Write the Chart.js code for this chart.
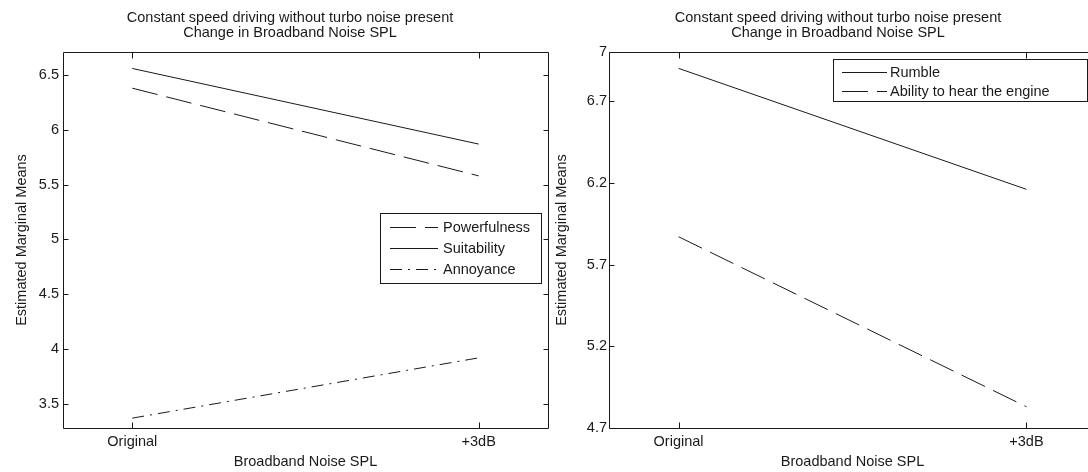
<!DOCTYPE html>
<html>
<head>
<meta charset="utf-8">
<style>
  html, body { margin: 0; padding: 0; background: #fff; overflow: hidden; }
  body { width: 1088px; height: 472px; position: relative; }
  canvas { position: absolute; top: 0; }
  #left { left: 0; }
  #right { left: 548px; }
</style>
</head>
<body>
<canvas id="left" width="580" height="472"></canvas>
<canvas id="right" width="580" height="472"></canvas>
<script src="https://cdn.jsdelivr.net/npm/chart.js"></script>
<script>
  const categories = ['Original', '+3dB'];
  const titleLines = ['Constant speed driving without turbo noise present', 'Change in Broadband Noise SPL'];

  // left panel
  const powerfulness = [6.38, 5.58];
  const suitability = [6.56, 5.87];
  const annoyance = [3.37, 3.92];
  const leftTicks = [3.5, 4, 4.5, 5, 5.5, 6, 6.5];

  // right panel
  const rumble = [6.90, 6.16];
  const hearEngine = [5.87, 4.83];
  const rightTicks = [4.7, 5.2, 5.7, 6.2, 6.7, 7];

  const ink = '#1a1a1a';
  const font = { family: '"Liberation Sans", Arial, sans-serif', size: 14.5 };

  // matlab style box: frame, inward ticks, boxed legend inside the axes
  const matlabBox = {
    id: 'matlabBox',
    afterDatasetsDraw(chart, args, opts) {
      const { ctx, chartArea: a, scales: { x, y } } = chart;
      ctx.save();
      ctx.strokeStyle = ink;
      ctx.lineWidth = 1;
      ctx.setLineDash([]);
      ctx.beginPath();
      const L = Math.round(a.left) + 0.5, R = Math.round(a.right) + 0.5;
      const T = Math.round(a.top) + 0.5, B = Math.round(a.bottom) + 0.5;
      ctx.rect(L, T, R - L, B - T);
      x.ticks.forEach(t => {
        const px = Math.round(x.getPixelForValue(t.value)) + 0.5;
        ctx.moveTo(px, T); ctx.lineTo(px, T + 6);
        ctx.moveTo(px, B); ctx.lineTo(px, B - 6);
      });
      y.ticks.forEach(t => {
        const py = Math.round(y.getPixelForValue(t.value)) + 0.5;
        ctx.moveTo(L, py); ctx.lineTo(L + 5, py);
        ctx.moveTo(R, py); ctx.lineTo(R - 5, py);
      });
      ctx.stroke();

      const lg = opts.legend;
      ctx.fillStyle = '#fff';
      ctx.fillRect(lg.left + 0.5, lg.top + 0.5, lg.width, lg.height);
      ctx.strokeRect(lg.left + 0.5, lg.top + 0.5, lg.width, lg.height);
      ctx.font = font.size + 'px ' + font.family;
      ctx.textBaseline = 'middle';
      ctx.textAlign = 'left';
      chart.data.datasets.forEach((ds, i) => {
        const ry = Math.round(lg.top + lg.first + i * lg.step) + 0.5;
        ctx.beginPath();
        ctx.setLineDash(ds.borderDash || []);
        ctx.moveTo(lg.left + lg.x0, ry);
        ctx.lineTo(lg.left + lg.x1, ry);
        ctx.stroke();
        ctx.fillStyle = ink;
        ctx.fillText(ds.label, lg.left + lg.textX, ry);
      });
      ctx.restore();
    }
  };

  const points = vals => vals.map((v, i) => ({ x: i + 1, y: v }));

  function makeChart(id, datasets, yMin, yMax, yTicks, yWidth, yTitlePad, yTickPad, legend) {
    return new Chart(document.getElementById(id), {
      type: 'line',
      data: {
        datasets: datasets.map(d => ({
          label: d.label,
          data: points(d.values),
          borderColor: ink,
          borderWidth: 1,
          borderDash: d.dash,
          pointRadius: 0,
          tension: 0,
          fill: false,
          yAxisID: 'y'
        }))
      },
      options: {
        responsive: false,
        animation: false,
        layout: { padding: 0 },
        scales: {
          x: {
            type: 'linear',
            min: 0.8,
            max: 2.2,
            afterBuildTicks: s => { s.ticks = categories.map((c, i) => ({ value: i + 1 })); },
            afterFit: s => { s.height = 44; },
            grid: { display: false, drawTicks: false },
            border: { display: false },
            ticks: { callback: v => categories[v - 1], font, color: ink, padding: 5, maxRotation: 0, autoSkip: false },
            title: { display: true, text: 'Broadband Noise SPL', font, color: ink, padding: { top: 0, bottom: 1 } }
          },
          y: {
            type: 'linear',
            min: yMin,
            max: yMax,
            afterBuildTicks: s => { s.ticks = yTicks.map(v => ({ value: v })); },
            afterFit: s => { s.width = yWidth; },
            grid: { display: false, drawTicks: false },
            border: { display: false },
            ticks: { callback: v => String(v), font, color: ink, padding: yTickPad },
            title: { display: true, text: 'Estimated Marginal Means', font, color: ink, padding: { top: yTitlePad, bottom: 0 } }
          },
          yR: {
            type: 'linear',
            position: 'right',
            min: 0,
            max: 1,
            afterFit: s => { s.width = 32; },
            grid: { display: false, drawTicks: false },
            border: { display: false },
            ticks: { display: false }
          }
        },
        plugins: {
          legend: { display: false },
          tooltip: { enabled: false },
          title: {
            display: true,
            text: titleLines,
            color: ink,
            font: { family: font.family, size: font.size, weight: 'normal', lineHeight: 1.035 },
            padding: { top: 10.5, bottom: 11.5 }
          },
          matlabBox: { legend }
        }
      },
      plugins: [matlabBox]
    });
  }

  makeChart('left', [
    { label: 'Powerfulness', values: powerfulness, dash: [26, 9] },
    { label: 'Suitability', values: suitability, dash: [] },
    { label: 'Annoyance', values: annoyance, dash: [12, 6, 2, 6] }
  ], 3.28, 6.71, leftTicks, 63, 13, 4,
  { left: 380, top: 213, width: 161, height: 70, first: 14, step: 21, x0: 10, x1: 58, textX: 63 });

  makeChart('right', [
    { label: 'Rumble', values: rumble, dash: [] },
    { label: 'Ability to hear the engine', values: hearEngine, dash: [26, 9] }
  ], 4.7, 7, rightTicks, 61, 5, 2,
  { left: 285, top: 59, width: 254, height: 42, first: 13, step: 19, x0: 9, x1: 54, textX: 57 });
</script>
</body>
</html>
